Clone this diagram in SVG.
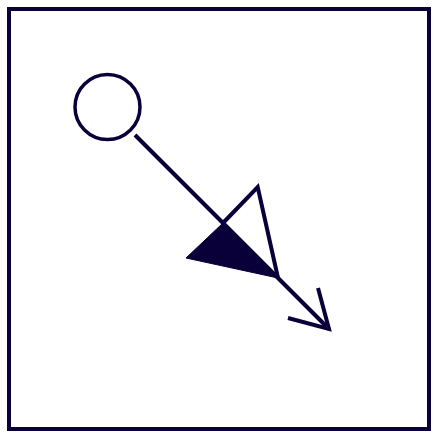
<svg xmlns="http://www.w3.org/2000/svg" width="438" height="438" viewBox="0 0 438 438">
<style>
.s{fill:none;stroke:#09003a;stroke-width:4;stroke-linejoin:miter;stroke-linecap:butt}
.f{fill:#09003a;stroke:#09003a;stroke-width:1}
</style>
<rect width="438" height="438" fill="#ffffff"/>
<g id="frame"><rect class="s" x="9" y="9" width="420" height="420"/></g>
<g id="start-node"><circle class="s" cx="107.5" cy="107" r="32.5" style="stroke-width:3.5"/></g>
<g id="connectors">
<line class="s" x1="135" y1="135" x2="329" y2="329"/>
<polygon class="f" points="223,223 186,258 278,278"/>
<polyline class="s" points="223,223 257.7,187 278,278"/>
<polyline class="s" points="318,288 329,329 288,318"/>
</g>
</svg>
